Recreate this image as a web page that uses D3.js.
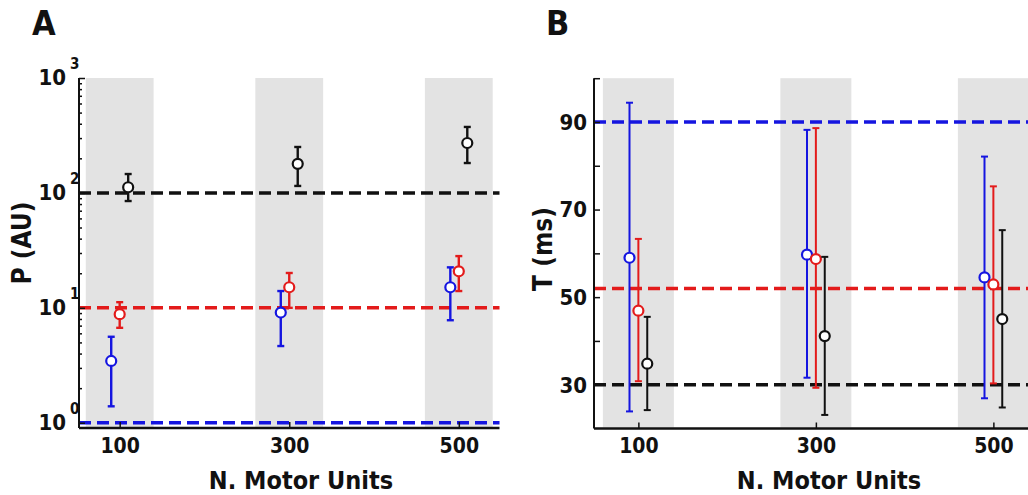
<!DOCTYPE html>
<html>
<head>
<meta charset="utf-8">
<title>P and T vs motor units</title>
<script src="https://cdn.jsdelivr.net/npm/d3@7/dist/d3.min.js"></script>
<style>
  body { margin: 0; background: #fff; }
  svg text { font-family: "DejaVu Sans Condensed", "DejaVu Sans", sans-serif; font-stretch: condensed; font-weight: bold; fill: #111; }
</style>
</head>
<body>
<svg id="fig" width="1028" height="495"></svg>
<script>
// x categories (number of motor units) and shaded band half-width
var units = [100, 300, 500];
var bandHalf = 40;

// panel A : P (AU), log scale — mean, lower and upper end of error bar
var pBlue    = [3.45, 9.1, 15.1];
var pBlueLo  = [1.39, 4.65, 7.8];
var pBlueHi  = [5.6, 14.0, 22.5];
var pRed     = [8.8, 15.1, 20.8];
var pRedLo   = [6.7, 10.0, 14.0];
var pRedHi   = [11.2, 20.1, 28.2];
var pBlack   = [112, 179, 272];
var pBlackLo = [85, 115, 182];
var pBlackHi = [146, 251, 375];
var pRef     = [1, 10, 100];          // blue, red, black dashed lines
var pTicks   = [1, 10, 100, 1000];

// panel B : T (ms)
var tBlue    = [59.0, 59.7, 54.5];
var tBlueLo  = [23.9, 31.6, 26.9];
var tBlueHi  = [94.4, 88.2, 82.1];
var tRed     = [46.9, 58.7, 52.9];
var tRedLo   = [30.8, 29.3, 30.3];
var tRedHi   = [63.3, 88.6, 75.3];
var tBlack   = [34.8, 41.1, 45.0];
var tBlackLo = [24.2, 23.1, 24.8];
var tBlackHi = [45.5, 59.2, 65.3];
var tRef     = [90, 52, 30];
var tTicks   = [30, 50, 70, 90];

var colors = ["#1515e0", "#e31b1b", "#111111"];
var shift = [-10, 0, 10];   // horizontal spread of the three series

var svg = d3.select("#fig");

function series(m, lo, hi) {
  return units.map(function(u, i){ return {u: u, m: m[i], lo: lo[i], hi: hi[i]}; });
}

function drawPanel(o) {
  var g = svg.append("g");
  var x = o.x, y = o.y;
  var x0 = x.range()[0], x1 = Math.min(x.range()[1], 1028);
  var yb = y.range()[0], yt = y.range()[1];

  // grey bands
  g.selectAll(".band").data(units).enter().append("rect")
    .attr("x", function(d){ return x(d - bandHalf); })
    .attr("width", function(d){ return x(d + bandHalf) - x(d - bandHalf); })
    .attr("y", yt).attr("height", yb - yt - 1)
    .attr("fill", "#e3e3e3");

  // dashed reference lines
  g.selectAll(".ref").data(o.ref).enter().append("line")
    .attr("x1", x0).attr("x2", x1)
    .attr("y1", function(d){ return y(d); }).attr("y2", function(d){ return y(d); })
    .attr("stroke", function(d, i){ return colors[i]; })
    .attr("stroke-width", 3.5).attr("stroke-dasharray", "12,6");

  // error bars + circles
  o.data.forEach(function(s, k){
    var gs = g.append("g").attr("stroke", colors[k]).attr("stroke-width", o.lw).attr("fill", "none");
    var cx = function(d){ return x(d.u + shift[k]); };
    gs.selectAll(".v").data(s).enter().append("line")
      .attr("x1", cx).attr("x2", cx)
      .attr("y1", function(d){ return y(d.lo); }).attr("y2", function(d){ return y(d.hi); });
    ["lo", "hi"].forEach(function(key){
      gs.selectAll(".c" + key).data(s).enter().append("line")
        .attr("x1", function(d){ return cx(d) - 3.5; }).attr("x2", function(d){ return cx(d) + 3.5; })
        .attr("y1", function(d){ return y(d[key]); }).attr("y2", function(d){ return y(d[key]); });
    });
    gs.selectAll("circle").data(s).enter().append("circle")
      .attr("cx", cx).attr("cy", function(d){ return y(d.m); })
      .attr("r", 5).attr("stroke-width", 2.2).attr("fill", "#fff");
  });

  // axes: ticks point inward
  var ax = d3.axisBottom(x).tickValues(units).tickSize(-6).tickPadding(10).tickFormat(d3.format("d"));
  var gx = g.append("g").attr("transform", "translate(0," + yb + ")").call(ax);
  gx.select(".domain").attr("d", "M" + x0 + ",0H" + x1).attr("stroke", "#111").attr("stroke-width", 2.5);
  gx.selectAll(".tick line").attr("stroke", "#111").attr("stroke-width", 1.5);
  gx.selectAll("text").attr("font-size", 21).attr("fill", "#111").attr("dy", "0.71em");

  var gy = g.append("g").attr("transform", "translate(" + x0 + ",0)");
  gy.call(o.yAxis);
  gy.select(".domain").attr("d", "M0," + yt + "V" + yb).attr("stroke", "#111").attr("stroke-width", 2);
  gy.selectAll(".tick line").attr("stroke", "#111").attr("stroke-width", 1.5);
  gy.selectAll("text").remove();

  // titles
  g.append("text").attr("x", o.cx).attr("y", 489).attr("text-anchor", "middle")
    .attr("font-size", 25).text("N. Motor Units");
  g.append("text").attr("transform", "translate(" + o.ly + "," + o.lyc + ") rotate(-90)")
    .attr("text-anchor", "middle").attr("font-size", 26).text(o.ylabel);
  g.append("text").attr("x", o.letterX).attr("y", 35).attr("font-size", 34).text(o.letter);
  return g;
}

// ---- panel A ----
var xA = d3.scaleLinear().domain([52, 548]).range([79, 499.5]);
var yA = d3.scaleLog().domain([0.9, 1000]).range([428, 78]);
var minorA = [];
pTicks.slice(0, 3).forEach(function(p){ for (var m = 2; m <= 9; m++) minorA.push(p * m); });
var gA = drawPanel({
  x: xA, y: yA, ref: pRef, lw: 2.4,
  data: [series(pBlue, pBlueLo, pBlueHi), series(pRed, pRedLo, pRedHi), series(pBlack, pBlackLo, pBlackHi)],
  yAxis: function(sel){
    sel.call(d3.axisLeft(yA).tickValues(pTicks).tickSize(-6));
    sel.append("g").call(d3.axisLeft(yA).tickValues(minorA).tickSize(-3).tickFormat(""))
      .select(".domain").remove();
  },
  cx: 301, ly: 31, lyc: 243, ylabel: "P (AU)", letter: "A", letterX: 32
});
// log tick labels 10^n
var lab = gA.selectAll(".plab").data(pTicks).enter().append("g")
  .attr("transform", function(d){ return "translate(0," + yA(d) + ")"; });
lab.append("text").attr("x", 66).attr("y", 7).attr("text-anchor", "end").attr("font-size", 22).text("10");
lab.append("text").attr("x", 70).attr("y", -9).attr("font-size", 15)
  .text(function(d){ return Math.round(Math.log10(d)); });

// ---- panel B ----
var xB = d3.scaleLinear().domain([50, 550]).range([594, 1037.75]);
var yB = d3.scaleLinear().domain([20, 100]).range([428.5, 78.2]);
var gB = drawPanel({
  x: xB, y: yB, ref: tRef, lw: 2,
  data: [series(tBlue, tBlueLo, tBlueHi), series(tRed, tRedLo, tRedHi), series(tBlack, tBlackLo, tBlackHi)],
  yAxis: function(sel){
    sel.call(d3.axisLeft(yB).tickValues(d3.range(30, 101, 10)).tickSize(-6));
  },
  cx: 829, ly: 552, lyc: 249, ylabel: "T (ms)", letter: "B", letterX: 546
});
gB.selectAll(".tlab").data(tTicks).enter().append("text")
  .attr("x", 587).attr("y", function(d){ return yB(d); }).attr("dy", "0.36em")
  .attr("text-anchor", "end").attr("font-size", 22).text(function(d){ return d; });
</script>
</body>
</html>
